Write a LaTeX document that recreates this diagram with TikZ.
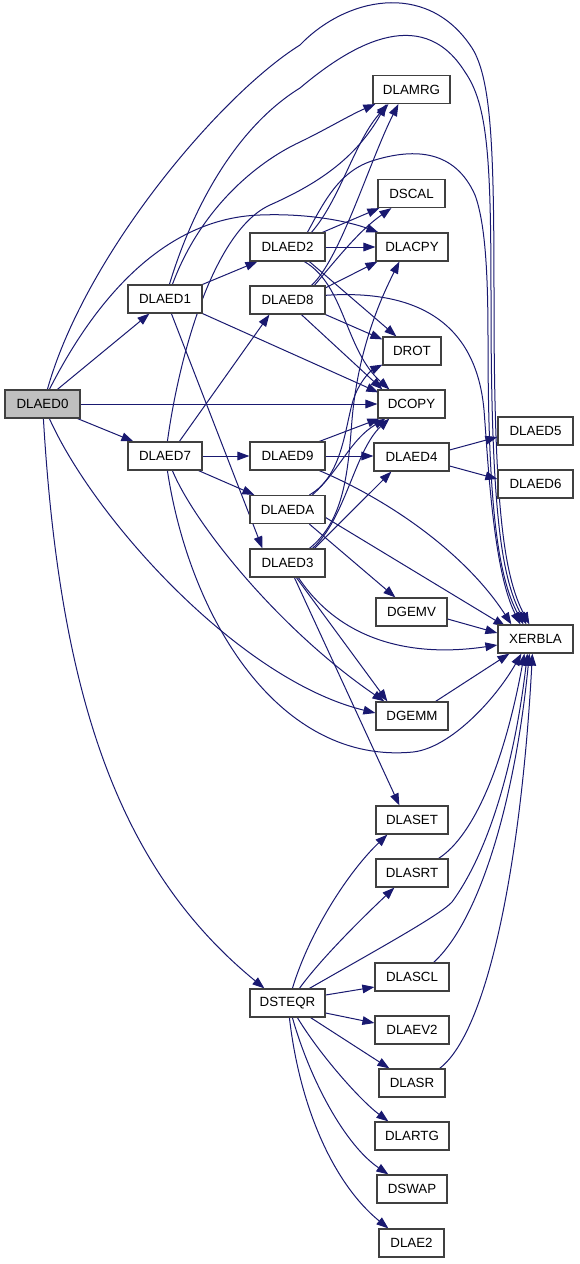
\documentclass[tikz,border=0pt]{standalone}
\usepackage{fontspec}
\setmainfont{Liberation Sans}
\usetikzlibrary{arrows.meta}
\definecolor{edgec}{HTML}{191970}
\definecolor{bordc}{HTML}{404040}
\definecolor{rootc}{HTML}{BFBFBF}
\pgfdeclarelayer{bg}
\pgfsetlayers{bg,main}
\begin{document}
\begin{tikzpicture}[x=0.75pt,y=-0.75pt,
  fn/.style={draw=bordc, fill=white, line width=0.9pt, inner sep=0pt,
    minimum height=21pt, font=\fontsize{10}{12}\selectfont},
  w/.style={minimum width=#1*0.75pt},
  root/.style={fill=rootc},
  e/.style={draw=edgec, line width=0.75pt, -{Triangle[length=9pt,width=6.5pt]}}]
\useasboundingbox (0,0) rectangle (579,1264);
% nodes
\node[fn,root,w=75] (dlaed0) at (42.5,404) {DLAED0};
\node[fn,w=74] (dlaed1) at (165,299) {DLAED1};
\node[fn,w=74] (dlaed7) at (165,456) {DLAED7};
\node[fn,w=75] (dlaed2) at (287.5,247) {DLAED2};
\node[fn,w=75] (dlaed8) at (287.5,300) {DLAED8};
\node[fn,w=75] (dlaed9) at (287.5,456) {DLAED9};
\node[fn,w=75] (dlaeda) at (287.5,509.5) {DLAEDA};
\node[fn,w=75] (dlaed3) at (287.5,563) {DLAED3};
\node[fn,w=75] (dsteqr) at (287.5,1003) {DSTEQR};
\node[fn,w=77] (dlamrg) at (411.5,89.5) {DLAMRG};
\node[fn,w=67] (dscal) at (411.5,193.5) {DSCAL};
\node[fn,w=72] (dlacpy) at (412,247) {DLACPY};
\node[fn,w=58] (drot) at (412,351) {DROT};
\node[fn,w=67] (dcopy) at (411.5,404) {DCOPY};
\node[fn,w=75] (dlaed4) at (411.5,457) {DLAED4};
\node[fn,w=71] (dgemv) at (411.5,612) {DGEMV};
\node[fn,w=72] (dgemm) at (412,716) {DGEMM};
\node[fn,w=72] (dlaset) at (412,820) {DLASET};
\node[fn,w=72] (dlasrt) at (412,873) {DLASRT};
\node[fn,w=74] (dlascl) at (412,977) {DLASCL};
\node[fn,w=74] (dlaev2) at (412,1030) {DLAEV2};
\node[fn,w=66] (dlasr) at (412,1083) {DLASR};
\node[fn,w=74] (dlartg) at (412,1136) {DLARTG};
\node[fn,w=70] (dswap) at (412,1189) {DSWAP};
\node[fn,w=65] (dlae2) at (411.5,1243) {DLAE2};
\node[fn,w=75] (dlaed5) at (535.5,431) {DLAED5};
\node[fn,w=75] (dlaed6) at (535.5,484) {DLAED6};
\node[fn,w=75] (xerbla) at (535.5,639) {XERBLA};
\begin{pgfonlayer}{bg}
\fill[white] (0,0) rectangle (579,1264);
% DLAED0
\draw[e] ([shift={(43,0)}]dlaed0.north west) .. controls (85,255) and (220,95) .. (300,45)
  .. controls (345,-2) and (425,-20) .. (470,45) .. controls (492,75) and (494,150) .. (494,300)
  .. controls (494,500) and (503,575) .. ([shift={(32,0)}]xerbla.north west);
\draw[e] ([shift={(45,0)}]dlaed0.north west) .. controls (100,290) and (170,218) .. (260,215)
  .. controls (310,213) and (350,222) .. ([shift={(3,0)}]dlacpy.north west);
\draw[e] ([shift={(53,0)}]dlaed0.north west) -- ([shift={(22,0)}]dlaed1.south west);
\draw[e] (dlaed0.east) -- (dcopy.west);
\draw[e] ([shift={(-3,0)}]dlaed0.south east) -- ([shift={(6,0)}]dlaed7.north west);
\draw[e] ([shift={(45,0)}]dlaed0.south west) .. controls (95,520) and (240,680) .. ([shift={(0,-3)}]dgemm.west);
\draw[e] ([shift={(39,0)}]dlaed0.south west) .. controls (60,700) and (120,870) .. ([shift={(15,0)}]dsteqr.north west);
% DLAED1
\draw[e] ([shift={(42,0)}]dlaed1.north west) .. controls (195,200) and (240,125) .. (300,88)
  .. controls (345,50) and (420,0) .. (465,72) .. controls (488,105) and (491,160) .. (491,300)
  .. controls (491,500) and (500,575) .. ([shift={(29,0)}]xerbla.north west);
\draw[e] ([shift={(45,0)}]dlaed1.north west) .. controls (200,210) and (255,163) .. (300,142)
  .. controls (325,130) and (350,115) .. ([shift={(3,0)}]dlamrg.south west);
\draw[e] (dlaed1.north east) -- ([shift={(8,0)}]dlaed2.south west);
\draw[e] ([shift={(44,0)}]dlaed1.south west) -- ([shift={(13,0)}]dlaed3.north west);
\draw[e] (dlaed1.south east) -- ([shift={(1,3)}]dcopy.north west);
% DLAED7
\draw[e] ([shift={(40,0)}]dlaed7.north west) .. controls (180,350) and (215,230) .. (270,205)
  .. controls (315,185) and (355,160) .. ([shift={(14,0)}]dlamrg.south west);
\draw[e] ([shift={(52,0)}]dlaed7.north west) -- ([shift={(20,0)}]dlaed8.south west);
\draw[e] (dlaed7.east) -- (dlaed9.west);
\draw[e] ([shift={(-4,0)}]dlaed7.south east) -- ([shift={(5,0)}]dlaeda.north west);
\draw[e] ([shift={(45,0)}]dlaed7.south west) .. controls (195,525) and (280,630) .. ([shift={(9,0)}]dgemm.north west);
\draw[e] ([shift={(40,0)}]dlaed7.south west) .. controls (190,620) and (280,765) .. (413,752)
  .. controls (450,748) and (495,700) .. ([shift={(24,0)}]xerbla.south west);
% DLAED2
\draw[e] ([shift={(58,0)}]dlaed2.north west) .. controls (325,200) and (340,170) .. (375,160)
  .. controls (415,148) and (455,150) .. (475,195) .. controls (486,225) and (488,280) .. (488,340)
  .. controls (488,500) and (497,575) .. ([shift={(26,0)}]xerbla.north west);
\draw[e] ([shift={(62,0)}]dlaed2.north west) .. controls (340,200) and (355,140) .. ([shift={(16,0)}]dlamrg.south west);
\draw[e] ([shift={(73,0)}]dlaed2.north west) -- ([shift={(2,0)}]dscal.south west);
\draw[e] (dlaed2.east) -- (dlacpy.west);
\draw[e] ([shift={(60,0)}]dlaed2.south west) -- ([shift={(14,0)}]drot.north west);
\draw[e] ([shift={(55,0)}]dlaed2.south west) .. controls (345,285) and (345,350) .. ([shift={(12,0)}]dcopy.north west);
% DLAED8
\draw[e] ([shift={(62,0)}]dlaed8.north west) .. controls (340,260) and (370,160) .. ([shift={(26,0)}]dlamrg.south west);
\draw[e] ([shift={(65,0)}]dlaed8.north west) .. controls (340,255) and (360,230) .. ([shift={(14,0)}]dscal.south west);
\draw[e] ([shift={(73,4)}]dlaed8.north west) -- ([shift={(2,0)}]dlacpy.south west);
\draw[e] (dlaed8.south east) -- ([shift={(0,3)}]drot.north west);
\draw[e] ([shift={(52,0)}]dlaed8.south west) -- ([shift={(5,0)}]dcopy.north west);
\draw[e] ([shift={(75,10)}]dlaed8.north west) .. controls (400,290) and (475,310) .. (484,410)
  .. controls (488,460) and (493,570) .. ([shift={(23,0)}]xerbla.north west);
% DLAED9
\draw[e] ([shift={(70,0)}]dlaed9.north west) -- ([shift={(2,0)}]dcopy.south west);
\draw[e] (dlaed9.east) -- (dlaed4.west |- dlaed9.east);
\draw[e] ([shift={(70,0)}]dlaed9.south west) .. controls (400,505) and (470,560) .. ([shift={(14,0)}]xerbla.north west);
% DLAEDA
\draw[e] ([shift={(63,0)}]dlaeda.north west) .. controls (340,470) and (350,440) .. ([shift={(8,0)}]dcopy.south west);
\draw[e] ([shift={(60,0)}]dlaeda.north west) .. controls (345,475) and (345,420) .. (355,395)
  .. controls (362,378) and (372,370) .. ([shift={(0,-1)}]drot.south west);
\draw[e] ([shift={(60,0)}]dlaeda.south west) -- ([shift={(20,0)}]dgemv.north west);
\draw[e] ([shift={(0,8)}]dlaeda.east) -- ([shift={(8,2)}]xerbla.north west);
% DLAED3
\draw[e] ([shift={(63,0)}]dlaed3.north west) .. controls (345,520) and (355,450) .. ([shift={(12,0)}]dcopy.south west);
\draw[e] ([shift={(60,0)}]dlaed3.north west) .. controls (345,520) and (348,470) .. (352,420)
  .. controls (358,350) and (380,300) .. ([shift={(24,0)}]dlacpy.south west);
\draw[e] ([shift={(65,0)}]dlaed3.north west) -- ([shift={(18,0)}]dlaed4.south west);
\draw[e] ([shift={(47,0)}]dlaed3.south west) -- ([shift={(12,0)}]dgemm.north west);
\draw[e] ([shift={(45,0)}]dlaed3.south west) -- ([shift={(24,0)}]dlaset.north west);
\draw[e] ([shift={(49,0)}]dlaed3.south west) .. controls (340,640) and (410,658) .. ([shift={(0,6)}]xerbla.west);
% DLAED4, DGEMV, DGEMM
\draw[e] ([shift={(0,-7)}]dlaed4.east) -- ([shift={(0,6)}]dlaed5.west);
\draw[e] ([shift={(0,9)}]dlaed4.east) -- ([shift={(0,-5)}]dlaed6.west);
\draw[e] ([shift={(0,7)}]dgemv.east) -- ([shift={(0,-6)}]xerbla.west);
\draw[e] ([shift={(-13,0)}]dgemm.north east) -- ([shift={(12,0)}]xerbla.south west);
% DSTEQR
\draw[e] ([shift={(43,0)}]dsteqr.north west) .. controls (310,930) and (350,870) .. ([shift={(12,0)}]dlaset.south west);
\draw[e] ([shift={(50,0)}]dsteqr.north west) .. controls (320,960) and (360,920) .. ([shift={(19,0)}]dlasrt.south west);
\draw[e] ([shift={(60,0)}]dsteqr.north west) .. controls (380,948) and (440,915) .. (452,902)
  .. controls (490,850) and (515,760) .. ([shift={(30,0)}]xerbla.south west);
\draw[e] ([shift={(0,-8)}]dsteqr.east) -- ([shift={(0,10)}]dlascl.west);
\draw[e] ([shift={(0,10)}]dsteqr.east) -- ([shift={(0,-7)}]dlaev2.west);
\draw[e] ([shift={(-15,0)}]dsteqr.south east) -- ([shift={(11,0)}]dlasr.north west);
\draw[e] ([shift={(48,0)}]dsteqr.south west) .. controls (320,1055) and (360,1100) .. ([shift={(14,0)}]dlartg.north west);
\draw[e] ([shift={(43,0)}]dsteqr.south west) .. controls (310,1080) and (345,1145) .. ([shift={(12,0)}]dswap.north west);
\draw[e] ([shift={(40,0)}]dsteqr.south west) .. controls (300,1110) and (335,1185) .. ([shift={(10,0)}]dlae2.north west);
% to XERBLA from below
\draw[e] ([shift={(-10,0)}]dlasrt.north east) .. controls (475,835) and (505,760) .. ([shift={(27,0)}]xerbla.south west);
\draw[e] ([shift={(-16,0)}]dlascl.north east) .. controls (480,920) and (515,800) .. ([shift={(32,0)}]xerbla.south west);
\draw[e] ([shift={(-6,0)}]dlasr.north east) .. controls (490,1030) and (522,850) .. ([shift={(35,0)}]xerbla.south west);
\end{pgfonlayer}
\end{tikzpicture}
\end{document}
